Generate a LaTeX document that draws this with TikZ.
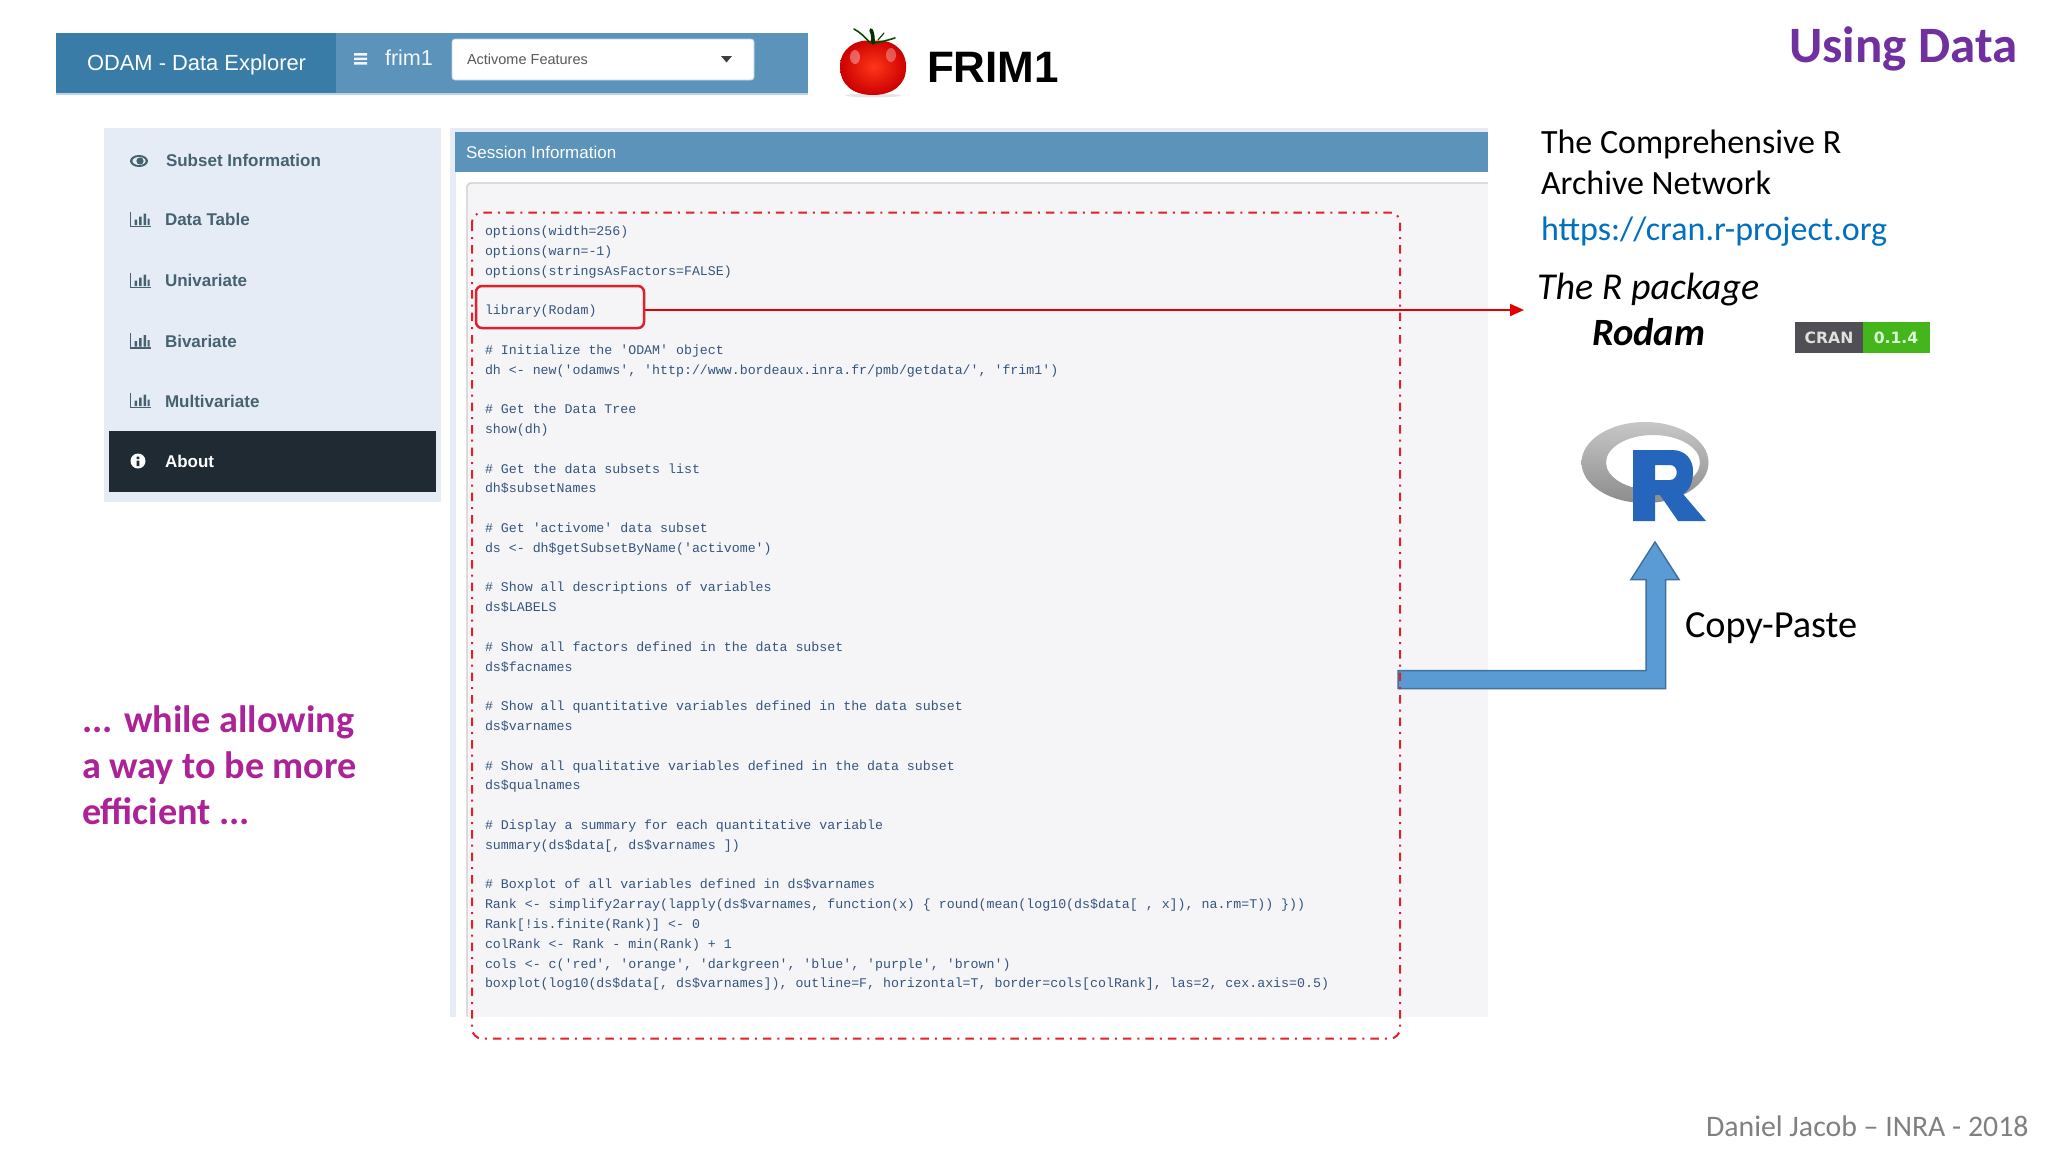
\documentclass[tikz,border=0pt]{standalone}
\usepackage{fontspec}
\setmainfont{Carlito}
\newfontfamily\uifont{Liberation Sans}
\newfontfamily\codefont{Liberation Mono}
\newfontfamily\badgefont{DejaVu Sans}
\usetikzlibrary{arrows.meta}
\definecolor{hdrdark}{HTML}{3A7CA8}
\definecolor{hdrlight}{HTML}{5B93BB}
\definecolor{sidebg}{HTML}{E6ECF6}
\definecolor{sidetxt}{HTML}{466270}
\definecolor{aboutbg}{HTML}{1F2A33}
\definecolor{codebg}{HTML}{F5F5F7}
\definecolor{codetxt}{HTML}{35557F}
\definecolor{dashred}{HTML}{E0202A}
\definecolor{arrowblue}{HTML}{5B9BD5}
\definecolor{arrowedge}{HTML}{41719C}
\definecolor{purpletitle}{HTML}{7030A0}
\definecolor{magentatxt}{HTML}{AB2396}
\definecolor{linkblue}{HTML}{0070C0}
\definecolor{rblue}{HTML}{2565BB}
\definecolor{badgedark}{HTML}{4F4F55}
\definecolor{badgegreen}{HTML}{45B51C}
\newcommand\fsz[1]{\fontsize{#1}{#1}\selectfont}
\newcommand\codeln[2]{\node[codeline] (code#1) at (485,{235.5+#1*19.8}) {#2};}
\tikzset{
  txt/.style={anchor=base west,inner sep=0pt,outer sep=0pt},
  codeline/.style={txt,text=codetxt,font=\codefont\fsz{13.27}},
  sideitem/.style={txt,text=sidetxt,font=\uifont\bfseries\fsz{17}},
  bodytxt/.style={txt,text=black,font=\fsz{34}},
  magtxt/.style={txt,text=magentatxt,font=\bfseries\fsz{38.2}},
  badgetxt/.style={anchor=center,inner sep=0pt,font=\badgefont\bfseries\fsz{15.6}},
  barsicon/.pic={
    \draw[sidetxt,line width=1.3pt] (0,-8) -- (0,7) -- (20,7);
    \fill[sidetxt] (4,5.5) rectangle (6.5,0) (8.5,5.5) rectangle (11,-3) (13,5.5) rectangle (15.5,-6) (17,5.5) rectangle (19,-1);
  }
}
\begin{document}
\begin{tikzpicture}[x=1pt,y=-1pt]
\useasboundingbox (0,0) rectangle (2048,1152);
\fill[white] (0,0) rectangle (2048,1152);
% top bar
\fill[hdrlight] (56,33) rectangle (808,93);
\fill[hdrdark] (56,33) rectangle (336,93);
\fill[hdrlight!40!white] (56,93) rectangle (808,95);
\node[txt,text=white,font=\uifont\fsz{21.9}] (odam) at (87,70.5) {ODAM - Data Explorer};
\fill[white!92!hdrlight] (354,53) rectangle (367,55.5) (354,57.5) rectangle (367,60) (354,62) rectangle (367,64.5);
\node[txt,text=white!92!hdrlight,font=\uifont\fsz{21.6}] (frim) at (385,65) {frim1};
\fill[white,rounded corners=3pt,draw=hdrlight!40!white,line width=.8pt] (452,39) rectangle (754,80);
\node[txt,text=black!65,font=\uifont\fsz{14.5}] (sel) at (467,64) {Activome Features};
\fill[black!75] (721,56) -- (732,56) -- (726.5,62.5) -- cycle;
% tomato
\fill[black!10] (873,95.5) ellipse (28 and 1.8);
\shade[inner color=red!75!orange!90!white,outer color=red!80!black] (873,41) .. controls (892,38) and (907,50) .. (906,68) .. controls (906,85) and (892,95) .. (873,95) .. controls (853,95) and (840,85) .. (840,66) .. controls (840,50) and (855,38) .. (873,41) -- cycle;
\fill[white,opacity=.35] (855,57) ellipse (5 and 7);
\fill[white,opacity=.3] (891,55) ellipse (5 and 7);
\draw[black!70!green,line width=1.6pt,line cap=round] (854,29) .. controls (860,32) and (866,38) .. (870,43);
\draw[black!70!green,line width=1.6pt,line cap=round] (874,43) .. controls (882,42) and (888,40) .. (895,38);
\draw[black!70!green,line width=1.2pt,line cap=round] (878,40) -- (884,33);
\draw[black!80!green,line width=3.6pt,line cap=round] (871,30) .. controls (873,34) and (873,38) .. (873,43);
\node[txt,text=black,font=\uifont\bfseries\fsz{44}] (frimone) at (927,82) {FRIM1};
% sidebar
\fill[sidebg] (104,128) rectangle (441,502);
\fill[aboutbg] (109,431) rectangle (436,492);
\fill[sidetxt] (139,161) ellipse (9 and 6);
\fill[sidebg] (139,161) ellipse (6.5 and 4);
\fill[sidetxt] (140,161) circle (3.6);
\pic at (130.5,219.5) {barsicon};
\pic at (130.5,280.5) {barsicon};
\pic at (130.5,341) {barsicon};
\pic at (130.5,400.5) {barsicon};
\fill[white] (138,461) circle (7.5);
\fill[aboutbg] (136.7,456.5) rectangle (139.3,459) (136.7,460.5) rectangle (139.3,466);
\node[sideitem] (s1) at (166,166) {Subset Information};
\node[sideitem] (s2) at (165,225.5) {Data Table};
\node[sideitem] (s3) at (165,286.5) {Univariate};
\node[sideitem] (s4) at (165,347.5) {Bivariate};
\node[sideitem] (s5) at (165,407) {Multivariate};
\node[sideitem,text=white] (s6) at (165,467.5) {About};
% main panel
\fill[sidebg] (450,128) rectangle (1488,132);
\fill[sidebg] (450,128) rectangle (456,1016.5);
\fill[hdrlight] (455,132) rectangle (1488,172);
\node[txt,text=white,font=\uifont\fsz{17}] (sess) at (466,158) {Session Information};
\fill[codebg] (467,183) rectangle (1488,1016.5);
\draw[black!20,line width=1.2pt] (467,1016.5) -- (467,186) -- (470,183) -- (1488,183);
% code
\codeln{0}{options(width=256)}
\codeln{1}{options(warn=-1)}
\codeln{2}{options(stringsAsFactors=FALSE)}
\codeln{4}{library(Rodam)}
\codeln{6}{\# Initialize the 'ODAM' object}
\codeln{7}{dh <- new('odamws', 'http://www.bordeaux.inra.fr/pmb/getdata/', 'frim1')}
\codeln{9}{\# Get the Data Tree}
\codeln{10}{show(dh)}
\codeln{12}{\# Get the data subsets list}
\codeln{13}{dh\$subsetNames}
\codeln{15}{\# Get 'activome' data subset}
\codeln{16}{ds <- dh\$getSubsetByName('activome')}
\codeln{18}{\# Show all descriptions of variables}
\codeln{19}{ds\$LABELS}
\codeln{21}{\# Show all factors defined in the data subset}
\codeln{22}{ds\$facnames}
\codeln{24}{\# Show all quantitative variables defined in the data subset}
\codeln{25}{ds\$varnames}
\codeln{27}{\# Show all qualitative variables defined in the data subset}
\codeln{28}{ds\$qualnames}
\codeln{30}{\# Display a summary for each quantitative variable}
\codeln{31}{summary(ds\$data[, ds\$varnames ])}
\codeln{33}{\# Boxplot of all variables defined in ds\$varnames}
\codeln{34}{Rank <- simplify2array(lapply(ds\$varnames, function(x) \{ round(mean(log10(ds\$data[ , x]), na.rm=T)) \}))}
\codeln{35}{Rank[!is.finite(Rank)] <- 0}
\codeln{36}{colRank <- Rank - min(Rank) + 1}
\codeln{37}{cols <- c('red', 'orange', 'darkgreen', 'blue', 'purple', 'brown')}
\codeln{38}{boxplot(log10(ds\$data[, ds\$varnames]), outline=F, horizontal=T, border=cols[colRank], las=2, cex.axis=0.5)}
% blue arrow
\draw[fill=arrowblue,draw=arrowedge,line width=1.5pt,line join=miter] (1398,670.5) -- (1646,670.5) -- (1646,579.5) -- (1631,579.5) -- (1655,542) -- (1679,579.5) -- (1665.5,579.5) -- (1665.5,688.5) -- (1398,688.5) -- cycle;
% dash-dot box
\draw[dashred,line width=2pt,rounded corners=10pt,dash pattern=on 8.5pt off 6pt on 2pt off 6pt] (472,212.5) rectangle (1400,1038.5);
% library box and red arrow
\node[draw=dashred,line width=2.5pt,rounded corners=6pt,minimum width=168pt,minimum height=42pt,inner sep=0pt] (libbox) at (560,307) {};
\coordinate (rodamtip) at (1524,310);
\draw[red!90!black,line width=2pt,-{Triangle[length=14pt,width=12pt]}] (libbox.east |- rodamtip) -- (rodamtip);
% right side
\node[txt,text=purpletitle,font=\bfseries\fsz{51}] (title) at (1789,62) {Using Data};
\node[bodytxt] (cran1) at (1541,153) {The Comprehensive R};
\node[bodytxt] (cran2) at (1541,194) {Archive Network};
\node[bodytxt,text=linkblue] (url) at (1541,240) {https://cran.r-project.org};
\node[bodytxt,font=\itshape\fsz{38}] (pkg) at (1537,299.5) {The R package};
\node[bodytxt,font=\bfseries\itshape\fsz{38.6}] (rodam) at (1592,345.5) {Rodam};
\fill[badgedark] (1795,322) rectangle (1863,353);
\fill[badgegreen] (1863,322) rectangle (1930,353);
\node[badgetxt,text=white!88!black] (badgea) at (1829,337.5) {CRAN};
\node[badgetxt,text=white!85!green] (badgeb) at (1896,337.5) {0.1.4};
% R logo
\shade[even odd rule,top color=black!22,bottom color=black!45] (1645,462.5) ellipse (63.5 and 40.5) (1653,462.5) ellipse (47 and 27.5);
\fill[even odd rule,rblue] (1633,450) -- (1672,450) .. controls (1686,450) and (1693,460) .. (1693,471) .. controls (1693,482) and (1690,490) .. (1683,494) -- (1706,521) -- (1678,521) -- (1660,495) -- (1655,495) -- (1655,521) -- (1633,521) -- cycle (1655,465) -- (1670,465) .. controls (1679,465) and (1679,480) .. (1670,480) -- (1655,480) -- cycle;
\node[bodytxt,font=\fsz{38.3}] (copy) at (1685,637.5) {Copy-Paste};
% left text
\node[magtxt] (m1) at (82,732) {... while allowing};
\node[magtxt] (m2) at (82,778) {a way to be more};
\node[magtxt] (m3) at (82,824) {efficient ...};
% footer
\node[txt,text=black!50,font=\fsz{29.8}] (foot) at (1706,1136) {Daniel Jacob – INRA - 2018};
\end{tikzpicture}
\end{document}
